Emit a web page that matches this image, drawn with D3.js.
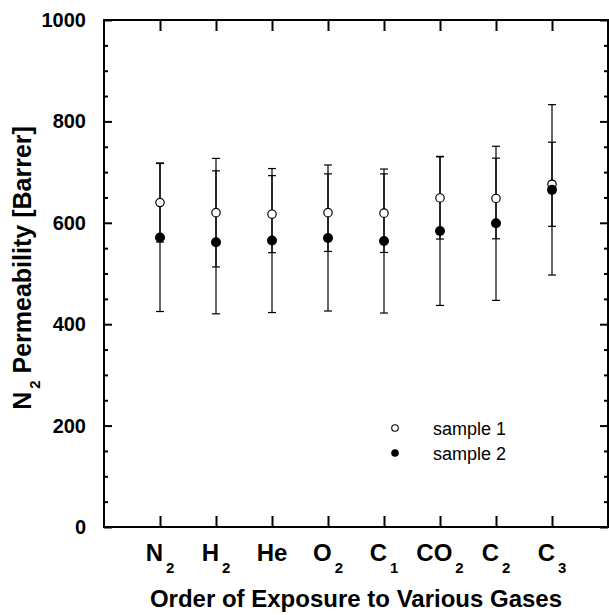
<!DOCTYPE html>
<html>
<head>
<meta charset="utf-8">
<script src="https://cdn.jsdelivr.net/npm/d3@7"></script>
<style>
  html, body { margin: 0; padding: 0; background: #fff; }
  svg { display: block; font-family: "Liberation Sans", Arial, sans-serif; }
</style>
</head>
<body>
<svg id="chart" width="609" height="615"></svg>
<script>
// Gas exposure order (base symbol + subscript)
const gasBase = ["N", "H", "He", "O", "C", "CO", "C", "C"];
const gasSub  = ["2", "2", "",   "2", "1", "2",  "2", "3"];

// N2 permeability (Barrer) with error half-widths
const sample1    = [640, 620, 617, 620, 619, 649, 648, 676];
const sample1Err = [78, 107, 76, 76.5, 77.5, 81, 79.5, 83];
const sample2    = [571, 561.5, 565, 570, 564, 584, 599, 665];
const sample2Err = [146, 141, 142, 144, 142, 147, 152, 168];

const yMajorTicks = [0, 200, 400, 600, 800, 1000];
const seriesNames = ["sample 1", "sample 2"];

const svg = d3.select("#chart");
const plotLeft = 104, plotRight = 608, plotTop = 20, plotBottom = 527;

const x = d3.scaleLinear().domain([0, 9]).range([plotLeft, plotRight]);
const y = d3.scaleLinear().domain([0, 1000]).range([plotBottom, plotTop]);
const positions = d3.range(1, gasBase.length + 1);
const minorTicks = d3.range(0, 1001, 50).filter(v => v % 200 !== 0);

// Frame
svg.append("rect")
  .attr("x", plotLeft).attr("y", plotTop)
  .attr("width", plotRight - plotLeft).attr("height", plotBottom - plotTop)
  .attr("fill", "none").attr("stroke", "#000").attr("stroke-width", 2);

function styleAxis(g) {
  g.select(".domain").remove();
  g.selectAll(".tick line").attr("stroke", "#000").attr("stroke-width", 2);
}

// Left axis with labels
const gL = svg.append("g").attr("transform", `translate(${plotLeft},0)`)
  .call(d3.axisLeft(y).tickValues(yMajorTicks).tickSize(-8).tickFormat(d3.format("d")))
  .call(styleAxis);
gL.selectAll(".tick text")
  .attr("x", 86 - plotLeft).attr("text-anchor", "end")
  .attr("font-size", 20).attr("font-weight", "bold")
  .attr("font-family", "'Liberation Sans', Arial, sans-serif")
  .attr("fill", "#000");
svg.append("g").attr("transform", `translate(${plotLeft},0)`)
  .call(d3.axisLeft(y).tickValues(minorTicks).tickSize(-4).tickFormat(""))
  .call(styleAxis);

// Right axis
svg.append("g").attr("transform", `translate(${plotRight},0)`)
  .call(d3.axisRight(y).tickValues(yMajorTicks).tickSize(-8).tickFormat(""))
  .call(styleAxis);
svg.append("g").attr("transform", `translate(${plotRight},0)`)
  .call(d3.axisRight(y).tickValues(minorTicks).tickSize(-4).tickFormat(""))
  .call(styleAxis);

// Top and bottom axes
svg.append("g").attr("transform", `translate(0,${plotTop})`)
  .call(d3.axisTop(x).tickValues(positions).tickSize(-11).tickFormat(""))
  .call(styleAxis);
svg.append("g").attr("transform", `translate(0,${plotBottom})`)
  .call(d3.axisBottom(x).tickValues(positions).tickSize(-11).tickFormat(""))
  .call(styleAxis);

// Category labels with subscripts
const catLabels = svg.append("g");
gasBase.forEach((b, i) => {
  const t = catLabels.append("text")
    .attr("x", x(i + 1)).attr("y", 561)
    .attr("text-anchor", "middle")
    .attr("font-size", 24).attr("font-weight", "bold");
  t.append("tspan").text(b);
  if (gasSub[i]) {
    t.append("tspan").attr("dy", 12).attr("dx", 3).attr("font-size", 15).text(gasSub[i]);
  }
});

// Axis titles
svg.append("text")
  .attr("x", 356).attr("y", 607)
  .attr("text-anchor", "middle")
  .attr("font-size", 24).attr("font-weight", "bold")
  .text("Order of Exposure to Various Gases");

const yTitle = svg.append("text")
  .attr("transform", `translate(31,268) rotate(-90)`)
  .attr("text-anchor", "middle")
  .attr("font-size", 25).attr("font-weight", "bold");
yTitle.append("tspan").text("N");
yTitle.append("tspan").attr("dy", 9).attr("dx", 3).attr("font-size", 15).text("2");
yTitle.append("tspan").attr("dy", -9).text(" Permeability [Barrer]");

// Error bars
function errorBars(vals, errs) {
  const g = svg.append("g").attr("stroke", "#000").attr("stroke-width", 1.2);
  vals.forEach((v, i) => {
    const cx = x(i + 1), lo = y(v - errs[i]), hi = y(v + errs[i]);
    g.append("line").attr("x1", cx).attr("x2", cx).attr("y1", lo).attr("y2", hi);
    g.append("line").attr("x1", cx - 4).attr("x2", cx + 4).attr("y1", lo).attr("y2", lo);
    g.append("line").attr("x1", cx - 4).attr("x2", cx + 4).attr("y1", hi).attr("y2", hi);
  });
}
errorBars(sample2, sample2Err);
errorBars(sample1, sample1Err);

// Markers
svg.append("g").selectAll("circle").data(sample1).join("circle")
  .attr("cx", (d, i) => x(i + 1)).attr("cy", d => y(d)).attr("r", 4.2)
  .attr("fill", "#fff").attr("stroke", "#000").attr("stroke-width", 1.2);
svg.append("g").selectAll("circle").data(sample2).join("circle")
  .attr("cx", (d, i) => x(i + 1)).attr("cy", d => y(d)).attr("r", 5)
  .attr("fill", "#000");

// Legend
const legend = svg.append("g");
legend.append("circle").attr("cx", 395).attr("cy", 428).attr("r", 3.3)
  .attr("fill", "#fff").attr("stroke", "#000").attr("stroke-width", 1.1);
legend.append("circle").attr("cx", 395).attr("cy", 453).attr("r", 3.8).attr("fill", "#000");
seriesNames.forEach((n, i) => {
  legend.append("text").attr("x", 433).attr("y", 435 + i * 25)
    .attr("font-size", 18).text(n);
});
</script>
</body>
</html>
